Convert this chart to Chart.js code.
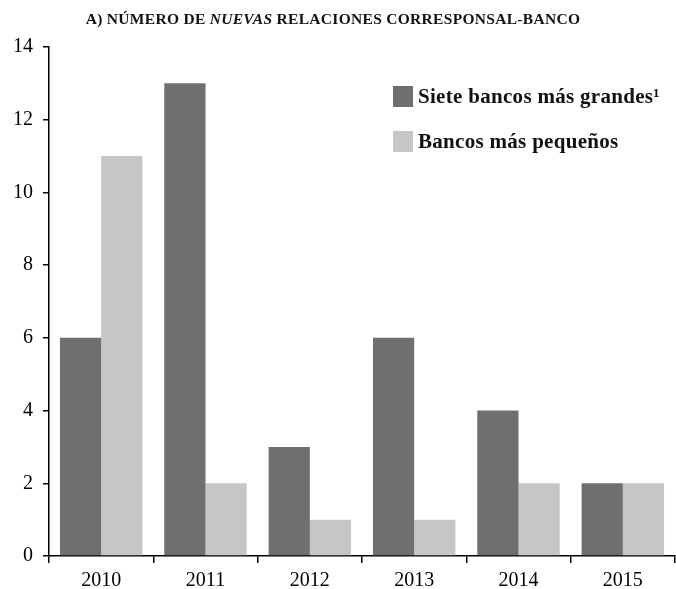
<!DOCTYPE html>
<html lang="es">
<head>
<meta charset="utf-8">
<title>Nuevas relaciones corresponsal-banco</title>
<script src="https://cdn.jsdelivr.net/npm/chart.js@4/dist/chart.umd.min.js"></script>
<style>
    html, body {
        margin: 0;
        padding: 0;
        background: #ffffff;
    }
    #wrap {
        position: relative;
        width: 676px;
        height: 589px;
    }
    #titulo {
        position: absolute;
        left: 0;
        width: 666px;
        top: 10px;
        text-align: center;
        font-family: "Liberation Serif", serif;
        font-size: 15.5px;
        font-weight: bold;
        color: #111;
        text-transform: uppercase;
        letter-spacing: 0.3px;
    }
    #leyenda {
        position: absolute;
        left: 393px;
        top: 86px;
        font-family: "Liberation Serif", serif;
        font-weight: bold;
        font-size: 21px;
        letter-spacing: 0.3px;
        color: #111;
    }
    .ley-item {
        display: flex;
        align-items: center;
        height: 21px;
        margin-bottom: 24px;
        white-space: nowrap;
    }
    .ley-caja {
        width: 20px;
        height: 21px;
        margin-right: 5px;
        flex: none;
    }
</style>
</head>
<body>
<div id="wrap">
    <canvas id="grafico" width="676" height="589"></canvas>
    <div id="titulo">a) número de <i>nuevas</i> relaciones corresponsal-banco</div>
    <div id="leyenda"></div>
</div>
<script>
// ========================================
// DATOS
// ========================================
const anios = ['2010', '2011', '2012', '2013', '2014', '2015'];
const bancosGrandes = [6, 13, 3, 6, 4, 2];
const bancosPequenos = [11, 2, 1, 1, 2, 2];
const ticksY = [0, 2, 4, 6, 8, 10, 12, 14];

const etiquetaGrandes = 'Siete bancos más grandes¹';
const etiquetaPequenos = 'Bancos más pequeños';

// ========================================
// CONFIGURACIÓN
// ========================================
const COLOR_OSCURO = '#6f6f6f';
const COLOR_CLARO = '#c6c6c6';
const FUENTE = '"Liberation Serif", "Times New Roman", serif';

// ========================================
// GRÁFICO
// ========================================
function crearGrafico() {
    const ctx = document.getElementById('grafico');

    return new Chart(ctx, {
        type: 'bar',
        data: {
            labels: anios,
            datasets: [
                {
                    label: etiquetaGrandes,
                    data: bancosGrandes,
                    backgroundColor: COLOR_OSCURO,
                    borderWidth: 0
                },
                {
                    label: etiquetaPequenos,
                    data: bancosPequenos,
                    backgroundColor: COLOR_CLARO,
                    borderWidth: 0
                }
            ]
        },
        options: {
            responsive: false,
            animation: false,
            barPercentage: 1.0,
            categoryPercentage: 0.79,
            layout: {
                padding: { top: 47, right: 1, left: 0, bottom: 0 }
            },
            scales: {
                x: {
                    afterFit: function(scale) { scale.height = 33; },
                    border: { color: '#000', width: 1.5 },
                    grid: {
                        offset: true,
                        drawOnChartArea: false,
                        drawTicks: true,
                        tickLength: 7,
                        color: '#000',
                        lineWidth: 1.5
                    },
                    ticks: {
                        color: '#000',
                        padding: 6,
                        font: { family: FUENTE, size: 20 }
                    }
                },
                y: {
                    min: 0,
                    max: 14,
                    afterFit: function(scale) { scale.width = 49; },
                    afterBuildTicks: function(scale) {
                        scale.ticks = ticksY.map(v => ({ value: v }));
                    },
                    border: { color: '#000', width: 1.5 },
                    grid: {
                        drawOnChartArea: false,
                        drawTicks: true,
                        tickLength: 6,
                        color: '#000',
                        lineWidth: 1.5
                    },
                    ticks: {
                        color: '#000',
                        padding: 10,
                        font: { family: FUENTE, size: 20 }
                    }
                }
            },
            plugins: {
                legend: { display: false },
                tooltip: { enabled: false },
                title: { display: false }
            }
        }
    });
}

// Leyenda en HTML, a partir de los datasets
function crearLeyenda(chart) {
    const contenedor = document.getElementById('leyenda');
    contenedor.innerHTML = chart.data.datasets.map(ds => `
        <div class="ley-item">
            <span class="ley-caja" style="background:${ds.backgroundColor}"></span>
            <span>${ds.label}</span>
        </div>
    `).join('');
}

// ========================================
// INICIO
// ========================================
const grafico = crearGrafico();
crearLeyenda(grafico);
</script>
</body>
</html>
